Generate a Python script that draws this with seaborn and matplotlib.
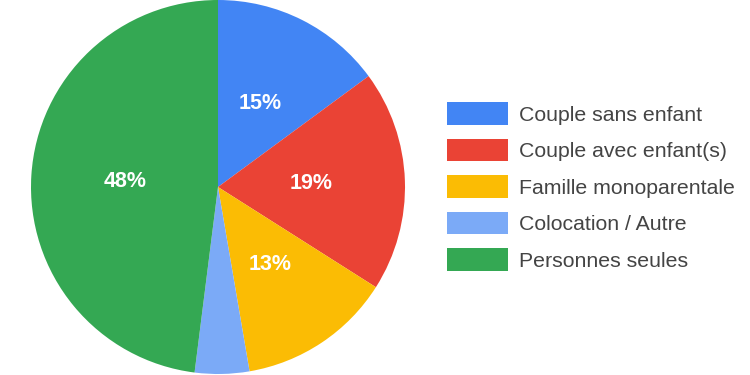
import matplotlib
matplotlib.use("Agg")
import matplotlib.pyplot as plt
import seaborn as sns

sns.set_theme(style="white")
plt.rcParams['font.family'] = ['Liberation Sans', 'DejaVu Sans']

categories = ["Couple sans enfant", "Couple avec enfant(s)", "Famille monoparentale",
              "Colocation / Autre", "Personnes seules"]
values = [14.9, 19.1, 13.3, 4.7, 48.0]
colors = ["#4285F4", "#EA4335", "#FBBC04", "#7BAAF7", "#34A853"]

fig = plt.figure(figsize=(7.5, 3.75), dpi=100)
ax = fig.add_axes([31/750, 1/375, 374/750, 374/375])

def fmt(p):
    return f"{p:.0f}%" if p >= 8 else ""

wedges, texts, autotexts = ax.pie(values, colors=colors, startangle=90, counterclock=False,
                                  autopct=fmt, pctdistance=0.5, radius=1.0,
                                  wedgeprops=dict(linewidth=0),
                                  textprops=dict(color="white", fontsize=15.5, fontweight="bold"))
ax.set_aspect("equal")
ax.set_xlim(-1, 1)
ax.set_ylim(-1, 1)

leg = fig.legend(wedges, categories, loc="center left", bbox_to_anchor=(447/750, 0.503),
                 frameon=False, fontsize=15.3, handlelength=2.85, handleheight=1.25,
                 labelspacing=0.66, handletextpad=0.55, borderpad=0, borderaxespad=0)
for t in leg.get_texts():
    t.set_color("#444444")

fig.savefig("out.png", dpi=100)
